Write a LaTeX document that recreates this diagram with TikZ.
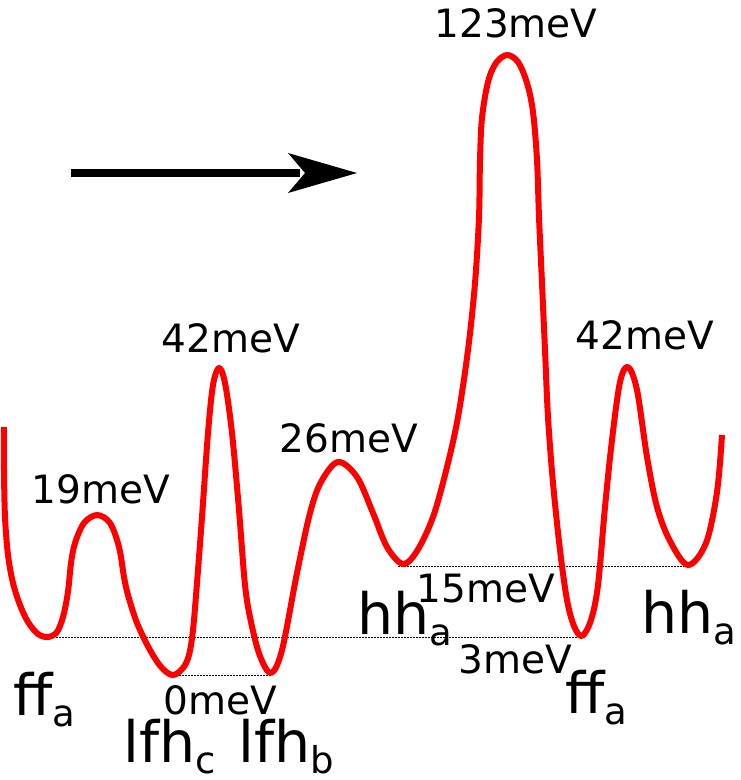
\documentclass[tikz,border=0pt]{standalone}
\usepackage{fontspec}
\setmainfont{DejaVu Sans}
\newcommand{\lblfont}{\fontsize{39}{44}\selectfont}
\newcommand{\bigfont}{\fontsize{57}{60}\selectfont}
\newcommand{\subfont}{\fontsize{37}{40}\selectfont}
\newcommand{\statelab}[2]{{\bigfont #1}\raisebox{-11pt}{\subfont #2}}
\begin{document}
\begin{tikzpicture}[x=1pt,y=-1pt,
  energy/.style={font=\lblfont,inner sep=0pt,anchor=base},
  state/.style={inner sep=0pt,anchor=base west},
  level/.style={black,line width=0.8pt,dash pattern=on 1.5pt off 1.5pt},
  curve/.style={red,line width=6pt,line join=round,line cap=butt}]
\useasboundingbox (0,0) rectangle (740,780);
% dotted reference levels
\coordinate (d1a) at (44,637); \coordinate (d1b) at (582,637);
\coordinate (d2a) at (170,675); \coordinate (d2b) at (272,675);
\coordinate (d3a) at (398,566); \coordinate (d3b) at (691,566);
\draw[level] (d1a) -- (d1b);
\draw[level] (d2a) -- (d2b);
\draw[level] (d3a) -- (d3b);
% potential energy curve
\draw[curve] plot[smooth, tension=0.55] coordinates {
(4,427) (4,470) (5,517) (8,555) (13,583) (20,605) (28,622) (38,634) (48,637)
(57,632) (63,617) (67,598) (69,583) (71,563) (75,543) (84,523) (97,515)
(110,523) (119,547) (124,577) (128,595) (137,623) (150,650) (162,668) (173,675)
(183,668) (189,655) (193,630) (197,583) (202,517) (208,433) (213,385) (219,368)
(225,383) (232,433) (239,510) (245,585) (251,622) (260,656) (271,673)
(282,650) (297,573) (310,513) (321,482) (338,462) (357,477) (373,513) (387,547)
(403,564) (417,551) (433,517) (447,467) (458,417) (468,350) (475,283)
(479,217) (480,160) (482,118) (488,82) (496,63) (507,55) (518,62) (527,83)
(533,112) (537,160) (539,217) (542,283) (545,350) (548,417) (553,483)
(560,550) (567,600) (574,626) (582,636) (591,620) (598,585)
(605,507) (612,440) (620,382) (628,367) (637,390) (647,457) (657,507)
(670,541) (688,565) (706,543) (717,492) (722,435)};
% arrow
\coordinate (a0) at (71,173);
\coordinate (a1) at (357,173);
\draw[line width=8pt] (a0) -- (300,173);
\fill (a1) -- (288,153) -- (305,173) -- (288,193) -- cycle;
% energy labels
\node[energy] (e19) at (101,503) {19meV};
\node[energy] (e42a) at (231,352) {42meV};
\node[energy] (e26) at (349,452) {26meV};
\node[energy] (e123) at (516,37) {123meV};
\node[energy] (e42b) at (645,349) {42meV};
\node[energy] (e15) at (486,602) {15meV};
\node[energy] (e3) at (515,673) {3meV};
\node[energy] (e0) at (220,714) {0meV};
% state labels
\node[state] (ffa1) at (13,715) {\statelab{ff}{a}};
\node[state] (lfhc) at (123,762) {\statelab{lfh}{c}};
\node[state] (lfhb) at (238,762) {\statelab{lfh}{b}};
\node[state] (hha1) at (357,634) {\statelab{hh}{a}};
\node[state] (ffa2) at (565,713) {\statelab{ff}{a}};
\node[state] (hha2) at (641,633) {\statelab{hh}{a}};
\end{tikzpicture}
\end{document}
